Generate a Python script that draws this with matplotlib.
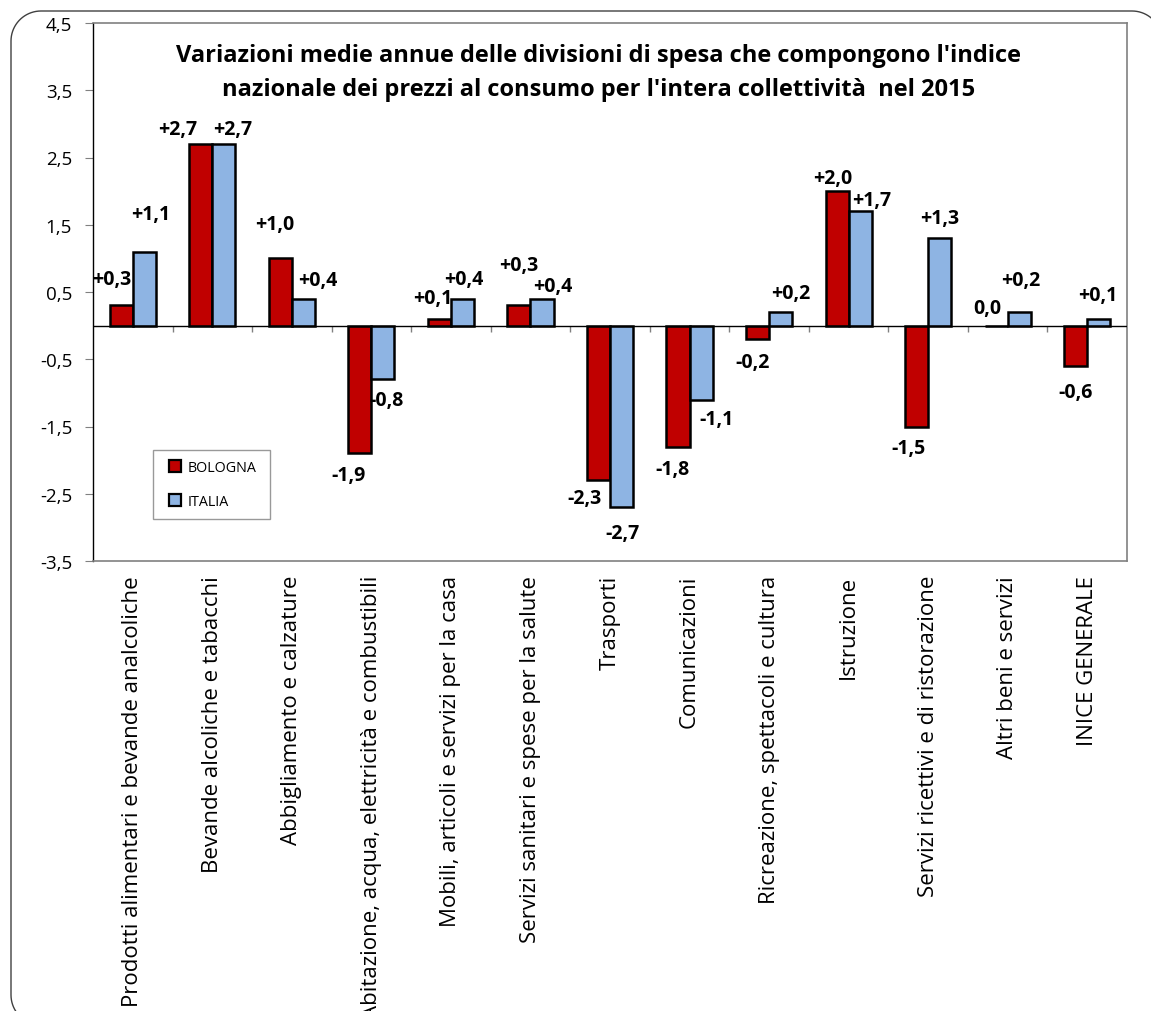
import matplotlib
matplotlib.use("Agg")
import matplotlib.pyplot as plt
from matplotlib.lines import Line2D
from matplotlib.patches import PathPatch
from matplotlib.path import Path
from matplotlib.transforms import IdentityTransform
import numpy as np

plt.rcParams['font.family'] = ['Open Sans', 'DejaVu Sans']

# dati
categorie = ["Prodotti alimentari e bevande analcoliche",
             "Bevande alcoliche e tabacchi",
             "Abbigliamento e calzature",
             "Abitazione, acqua, elettricità e combustibili",
             "Mobili, articoli e servizi per la casa",
             "Servizi sanitari e spese per la salute",
             "Trasporti",
             "Comunicazioni",
             "Ricreazione, spettacoli e cultura",
             "Istruzione",
             "Servizi ricettivi e di ristorazione",
             "Altri beni e servizi",
             "INICE GENERALE"]
bologna = [0.3, 2.7, 1.0, -1.9, 0.1, 0.3, -2.3, -1.8, -0.2, 2.0, -1.5, 0.0, -0.6]
italia = [1.1, 2.7, 0.4, -0.8, 0.4, 0.4, -2.7, -1.1, 0.2, 1.7, 1.3, 0.2, 0.1]
titolo = ("Variazioni medie annue delle divisioni di spesa che compongono l'indice\n"
          "nazionale dei prezzi al consumo per l'intera collettività  nel 2015")

# spostamenti delle etichette (pixel) come nel grafico originale
off_bo = [(-9, 26), (-23, 15), (-6, 34), (-11, -22), (-7, 21), (0, 40), (-14, -18),
          (-6, -22), (-5, -23), (-4, 13), (-8, -22), (-9, 18), (0, -26)]
off_it = [(6, 38), (9, 15), (14, 19), (4, -21), (1, 20), (11, 13), (1, -26),
          (15, -19), (10, 19), (12, 11), (0, 20), (2, 32), (-1, 24)]

rosso = "#C00000"
azzurro = "#8EB4E3"

def fmt(v):
    s = "%.1f" % v
    if v > 0:
        s = "+" + s
    return s.replace(".", ",")

def cornice(x0, y0, x1, y1, r):
    # rettangolo arrotondato in pixel
    pts = []
    for cx, cy, a0 in [(x1 - r, y1 - r, 0), (x0 + r, y1 - r, 90), (x0 + r, y0 + r, 180), (x1 - r, y0 + r, 270)]:
        t = np.radians(np.linspace(a0, a0 + 90, 20))
        pts += list(zip(cx + r*np.cos(t), cy + r*np.sin(t)))
    pts.append(pts[0])
    return Path(pts)

fig = plt.figure(figsize=(11.51, 10.12), dpi=100)
bordo = PathPatch(cornice(11, -14, 1162, 1000, 30), transform=IdentityTransform(),
                  fill=False, edgecolor="#404040", linewidth=1.0)
fig.patches.append(bordo)

ax = fig.add_axes([93/1151, 1-562/1012, (1127-93)/1151, (562-24)/1012])

x = np.arange(len(categorie))
w = 0.29
b1 = ax.bar(x - w/2, bologna, w, color=rosso, edgecolor="black", linewidth=1.8, zorder=3)
b2 = ax.bar(x + w/2, italia, w, color=azzurro, edgecolor="black", linewidth=1.8, zorder=3)

for i in range(len(categorie)):
    ax.annotate(fmt(bologna[i]), (x[i] - w/2, bologna[i]), xytext=off_bo[i],
                textcoords="offset pixels", ha="center", va="center",
                fontsize=14, fontweight="bold", zorder=5)
    ax.annotate(fmt(italia[i]), (x[i] + w/2, italia[i]), xytext=off_it[i],
                textcoords="offset pixels", ha="center", va="center",
                fontsize=14, fontweight="bold", zorder=5)

ax.set_xlim(-0.5, len(categorie) - 0.5)
ax.set_ylim(-3.5, 4.5)
yt = np.arange(-3.5, 4.6, 1.0)
ax.set_yticks(yt)
ax.set_yticklabels([("%.1f" % v).replace(".", ",") for v in yt], fontsize=13.5)
ax.tick_params(axis="y", direction="out", length=6, color="#808080", pad=9)

ax.set_xticks(x)
ax.set_xticklabels(categorie, rotation=90, fontsize=16, va="top", ha="center")
ax.tick_params(axis="x", length=0, pad=10)

# linea dello zero con tacche tra le categorie
ax.axhline(0, color="black", linewidth=1.0, zorder=4)
ax.vlines(np.arange(0.5, len(categorie) - 0.5, 1), -0.09, 0, color="#808080", linewidth=1.0, zorder=2)

for s in ["top", "right", "bottom"]:
    ax.spines[s].set_color("#808080")
    ax.spines[s].set_linewidth(1.2)
ax.spines["left"].set_color("black")
ax.spines["left"].set_linewidth(1.0)

ax.text(0.489, 0.909, titolo, transform=ax.transAxes, ha="center", va="center",
        fontsize=17, fontweight="bold", linespacing=1.6)

handles = [Line2D([], [], linestyle="none", marker="s", markersize=8, markerfacecolor=rosso,
                  markeredgecolor="black", markeredgewidth=1.6),
           Line2D([], [], linestyle="none", marker="s", markersize=8, markerfacecolor=azzurro,
                  markeredgecolor="black", markeredgewidth=1.6)]
leg = ax.legend(handles, ["BOLOGNA", "ITALIA"], loc="upper left",
                bbox_to_anchor=(0.058, 0.206, 0.113, 0.0), mode="expand", borderaxespad=0,
                fontsize=10.3, frameon=True, fancybox=False, handlelength=1.7,
                handletextpad=0.05, labelspacing=1.3, borderpad=0.7)
leg.get_frame().set_edgecolor("#808080")
leg.get_frame().set_linewidth(1.0)

fig.savefig("out.png", dpi=100)
